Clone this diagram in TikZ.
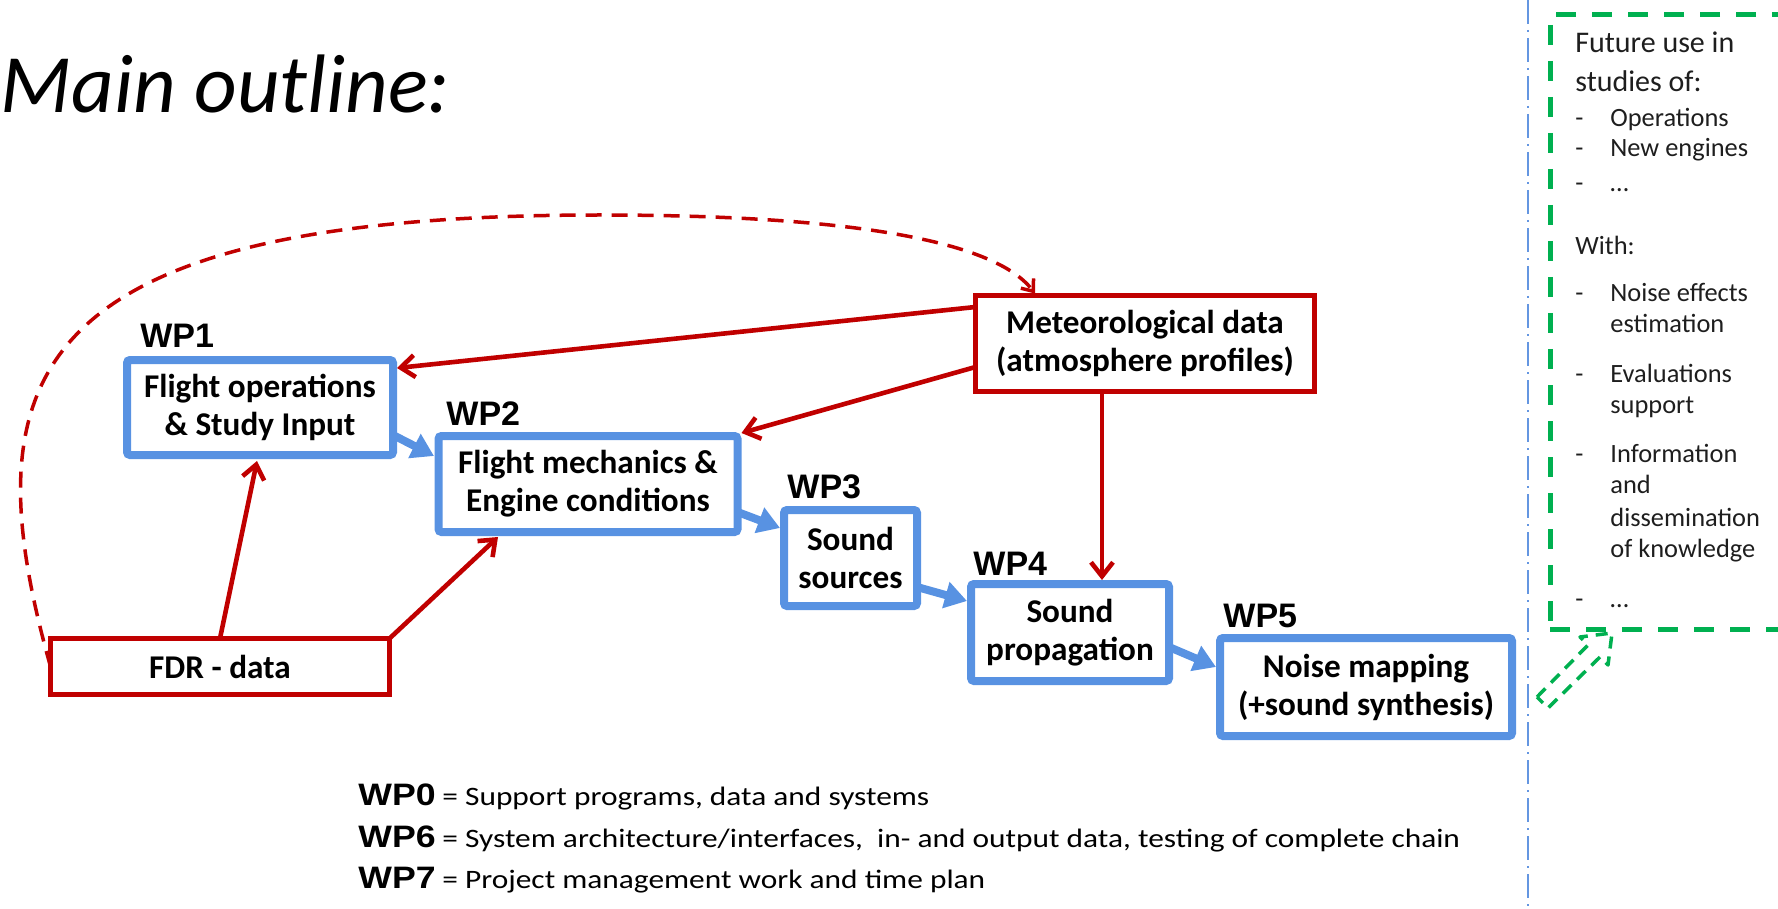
\documentclass[tikz,border=0pt]{standalone}
\usepackage{fontspec}
\setmainfont{Carlito}
\newfontfamily\arialfont{Liberation Sans}
\usetikzlibrary{arrows.meta,calc}
\definecolor{wpblue}{RGB}{88,146,226}
\definecolor{wpred}{RGB}{192,0,0}
\definecolor{wpgreen}{RGB}{0,176,80}
\definecolor{sepblue}{RGB}{100,150,225}
\definecolor{txtgray}{RGB}{30,30,30}
\newcommand\wpboxfont{\fontsize{16.6}{19}\selectfont\bfseries}
\newcommand\wplabfont{\arialfont\bfseries\fontsize{17}{20}\selectfont}
\newcommand\legwp[1]{\scalebox{1.15}[1]{\arialfont\bfseries\fontsize{15.5}{18}\selectfont #1}}
\newcommand\legtx[1]{\scalebox{1.18}[1]{\fontsize{13.3}{16}\selectfont #1}}
\begin{document}
\begin{tikzpicture}[x=0.5pt,y=-0.5pt,
  wpbox/.style={draw=wpblue, line width=4pt, rounded corners=1.5pt, inner sep=0pt, outer sep=0pt, align=center, font=\wpboxfont},
  databox/.style={draw=wpred, line width=2.6pt, inner sep=0pt, outer sep=0pt, align=center, font=\wpboxfont},
  wplabel/.style={anchor=base west, inner sep=0pt, font=\wplabfont},
  redarrow/.style={draw=wpred, line width=2.3pt, -{Straight Barb[length=7pt,width=11pt]}},
  bluearrow/.style={draw=wpblue, line width=4pt, -{Triangle[length=11pt,width=13pt]}},
  note/.style={anchor=base west, inner sep=0pt, text=txtgray, font=\fontsize{13.2}{15}\selectfont},
  legend/.style={anchor=base west, inner sep=0pt}
]
\useasboundingbox (0,0) rectangle (1778,909);
\clip (0,0) rectangle (1778,909);

% title
\node[anchor=base west, inner sep=0pt, font=\itshape\fontsize{41.5}{48}\selectfont] (title) at (0,113) {Main outline:};

% work package boxes
\node[wpbox, minimum width=133pt, minimum height=47.5pt] (wp1) at (260,407.5) {Flight operations\\\& Study Input};
\node[wpbox, minimum width=149.5pt, minimum height=48pt] (wp2) at (588,484) {Flight mechanics \&\\Engine conditions};
\node[wpbox, minimum width=66.5pt, minimum height=48pt] (wp3) at (850.5,558) {Sound\\sources};
\node[wpbox, minimum width=99pt, minimum height=48.5pt] (wp4) at (1070,632.5) {Sound\\propagation};
\node[wpbox, minimum width=146pt, minimum height=49pt] (wp5) at (1366,687) {Noise mapping\\(+sound synthesis)};

\node[wplabel] (l1) at (140,348) {WP1};
\node[wplabel] (l2) at (446,425) {WP2};
\node[wplabel] (l3) at (787,498) {WP3};
\node[wplabel] (l4) at (973,575) {WP4};
\node[wplabel] (l5) at (1223,627) {WP5};

% data boxes
\node[databox, minimum width=169.5pt, minimum height=48pt] (meteo) at (1145,343.5) {Meteorological data\\(atmosphere profiles)};
\node[databox, minimum width=169.5pt, minimum height=28pt] (fdr) at (220,666.5) {FDR - data};

% red arrows
\draw[redarrow] ([yshift=18.25pt]meteo.west) -- ([xshift=2pt,yshift=-4pt]wp1.north east);
\draw[redarrow] ([yshift=-11.75pt]meteo.west) -- ([xshift=2pt,yshift=1.5pt]wp2.north east);
\coordinate (mbot) at ([xshift=-21.5pt]meteo.south);
\draw[redarrow, shorten >=2pt] (mbot) -- (mbot |- wp4.north);
\draw[redarrow] (fdr.north) -- ([xshift=-1.5pt,yshift=-3pt]wp1.south);
\draw[redarrow] (fdr.north east) -- ([xshift=-45pt,yshift=-2.5pt]wp2.south);
\draw[wpred, line width=1.75pt, dash pattern=on 8pt off 5pt, -{Straight Barb[length=5pt,width=8pt]}]
  (fdr.west) .. controls (-30,380) and (20,215) .. (600,215)
  .. controls (820,215) and (990,235) .. ([xshift=-55pt,yshift=1pt]meteo.north);

% blue arrows
\draw[bluearrow] ([yshift=-13.75pt]wp1.east) -- ([xshift=-2.25pt,yshift=14pt]wp2.west);
\draw[bluearrow] ([yshift=-14pt]wp2.east) -- ([xshift=-2pt,yshift=15pt]wp3.west);
\draw[bluearrow] ([yshift=-14.5pt]wp3.east) -- ([xshift=-2pt,yshift=15.75pt]wp4.west);
\draw[bluearrow] ([yshift=-7.25pt]wp4.east) -- ([xshift=-2pt,yshift=10pt]wp5.west);

% separator
\draw[sepblue, line width=1pt, dash pattern=on 12pt off 3pt on 1pt off 3pt] (1528,0) -- (1528,909);

% future-use panel
\node[draw=wpgreen, line width=2.5pt, dash pattern=on 10pt off 8pt, minimum width=150pt, minimum height=307pt, inner sep=0pt, outer sep=0pt] (future) at (1700,322) {};
\draw[wpgreen, line width=1.75pt, dash pattern=on 6pt off 4pt, line join=round]
  (1537,697) -- (1588,645) -- (1580,637) -- (1612,633) -- (1608,665) -- (1600,657) -- (1548,708) -- cycle;

\node[note, font=\fontsize{15}{18}\selectfont] (n1) at (1575,53) {Future use in};
\node[note, font=\fontsize{15}{18}\selectfont] (n2) at (1575,92) {studies of:};
\node[note] (n3) at (1575,127) {\makebox[17.5pt][l]{-}Operations};
\node[note] (n4) at (1575,157) {\makebox[17.5pt][l]{-}New engines};
\node[note] (n5) at (1575,192) {\makebox[17.5pt][l]{-}…};
\node[note] (n6) at (1575,255) {With:};
\node[note] (n7) at (1575,302) {\makebox[17.5pt][l]{-}Noise effects};
\node[note] (n8) at (1610,333) {estimation};
\node[note] (n9) at (1575,382) {\makebox[17.5pt][l]{-}Evaluations};
\node[note] (n10) at (1610,413) {support};
\node[note] (n11) at (1575,462) {\makebox[17.5pt][l]{-}Information};
\node[note] (n12) at (1610,493) {and};
\node[note] (n13) at (1610,526) {dissemination};
\node[note] (n14) at (1610,557) {of knowledge};
\node[note] (n15) at (1575,607) {\makebox[17.5pt][l]{-}…};

% legend
\node[legend] (g0) at (358,805) {\legwp{WP0}};
\node[legend] (t0) at (442,805) {\legtx{= Support programs, data and systems}};
\node[legend] (g6) at (358,847) {\legwp{WP6}};
\node[legend] (t6) at (442,847) {\legtx{= System architecture/interfaces,\ \ in- and output data, testing of complete chain}};
\node[legend] (g7) at (358,888) {\legwp{WP7}};
\node[legend] (t7) at (442,888) {\legtx{= Project management work and time plan}};
\end{tikzpicture}
\end{document}
